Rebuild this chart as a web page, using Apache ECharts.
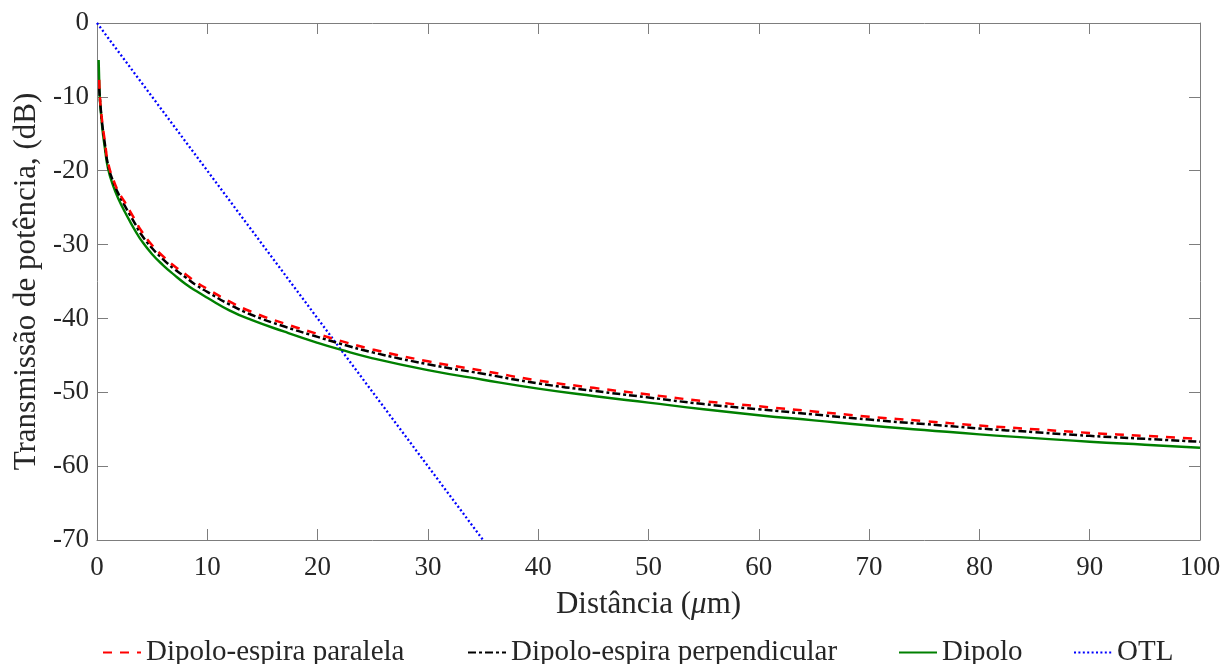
<!DOCTYPE html>
<html>
<head>
<meta charset="utf-8">
<script src="https://cdn.jsdelivr.net/npm/echarts@6/dist/echarts.min.js"></script>
<style>
  html, body { margin: 0; padding: 0; background: #ffffff; }
  #chart { width: 1224px; height: 664px; }
</style>
</head>
<body>
<div id="chart"></div>
<script>
// Distance samples (μm)
const distance = [0.15, 0.2, 0.25, 0.35, 0.5, 0.7, 1, 1.5, 2, 2.5, 3, 3.5, 4, 5, 6, 7, 8, 9, 10, 12, 14, 17, 20, 22, 25, 30, 35, 40, 45, 50, 55, 60, 65, 70, 75, 80, 85, 90, 95, 100];

// Power transmission (dB) for each configuration
const dipoloEspiraParalela = [null, -7.7, -9.6, -11.6, -13.7, -15.9, -18.9, -21.3, -23.0, -24.2, -25.5, -26.8, -28.1, -30.1, -31.6, -32.9, -34.0, -35.1, -36.0, -37.7, -39.1, -40.7, -42.1, -43.0, -44.2, -45.8, -47.1, -48.4, -49.4, -50.3, -51.2, -51.9, -52.6, -53.3, -53.9, -54.5, -55.0, -55.5, -55.9, -56.3];
const dipoloEspiraPerpendicular = [null, -8.8, -10.0, -11.8, -14.0, -16.2, -19.2, -21.6, -23.3, -24.7, -26.0, -27.3, -28.6, -30.5, -32.0, -33.3, -34.4, -35.5, -36.4, -38.1, -39.5, -41.1, -42.5, -43.4, -44.6, -46.2, -47.5, -48.8, -49.8, -50.7, -51.6, -52.3, -53.0, -53.7, -54.3, -54.9, -55.4, -55.9, -56.3, -56.7];
const dipolo = [-5.0, -7.8, -10.0, -12.0, -14.5, -16.8, -19.7, -22.2, -24.0, -25.5, -26.9, -28.2, -29.4, -31.3, -32.8, -34.1, -35.3, -36.3, -37.2, -38.9, -40.2, -41.8, -43.3, -44.2, -45.4, -47.0, -48.3, -49.5, -50.5, -51.4, -52.3, -53.1, -53.8, -54.5, -55.1, -55.7, -56.2, -56.7, -57.1, -57.5];

// Optical transmission line: straight loss line
const otlDistance = [0, 35];
const otl = [0, -70];

const seriesNames = ['Dipolo-espira paralela', 'Dipolo-espira perpendicular', 'Dipolo', 'OTL'];
const legendLeft = [97, 462, 893, 1068];

function pairs(xs, ys) {
  return xs.map((x, i) => [x, ys[i]]);
}

const FONT = 'Liberation Serif';
const AXIS_GREY = '#7d7d7d';
const TEXT = '#262626';

const chart = echarts.init(document.getElementById('chart'), null, { renderer: 'canvas' });

const tickInside = { show: true, inside: true, length: 11, lineStyle: { color: AXIS_GREY, width: 1 } };

chart.setOption({
  animation: false,
  backgroundColor: '#ffffff',
  grid: { left: 97, right: 24, top: 23, bottom: 124, containLabel: false },
  legend: seriesNames.map((name, i) => ({
    left: legendLeft[i],
    top: 633,
    itemWidth: 38,
    itemHeight: 30,
    itemStyle: { opacity: 0 },
    textStyle: { fontFamily: FONT, fontSize: 29, color: TEXT, padding: [0, 0, 0, 0] },
    data: [name]
  })),
  xAxis: [
    {
      type: 'value', position: 'bottom', min: 0, max: 100, interval: 10,
      name: 'Distância ({i|μ}m)', nameLocation: 'middle', nameGap: 49,
      nameTextStyle: { fontFamily: FONT, fontSize: 31, color: TEXT,
        rich: { i: { fontFamily: FONT, fontStyle: 'italic', fontSize: 31, color: TEXT } } },
      axisLine: { show: true, onZero: false, lineStyle: { color: AXIS_GREY, width: 1 } },
      axisTick: tickInside,
      axisLabel: { fontFamily: FONT, fontSize: 27, color: TEXT, margin: 14 },
      splitLine: { show: false }
    },
    {
      type: 'value', position: 'top', min: 0, max: 100, interval: 10,
      axisLine: { show: true, onZero: false, lineStyle: { color: AXIS_GREY, width: 1 } },
      axisTick: tickInside,
      axisLabel: { show: false },
      splitLine: { show: false }
    }
  ],
  yAxis: [
    {
      type: 'value', position: 'left', min: -70, max: 0, interval: 10,
      name: 'Transmissão de potência, (dB)', nameLocation: 'middle', nameGap: 55,
      nameTextStyle: { fontFamily: FONT, fontSize: 31, color: TEXT },
      axisLine: { show: true, onZero: false, lineStyle: { color: AXIS_GREY, width: 1 } },
      axisTick: tickInside,
      axisLabel: { fontFamily: FONT, fontSize: 27, color: TEXT, margin: 8 },
      splitLine: { show: false }
    },
    {
      type: 'value', position: 'right', min: -70, max: 0, interval: 10,
      axisLine: { show: true, onZero: false, lineStyle: { color: AXIS_GREY, width: 1 } },
      axisTick: tickInside,
      axisLabel: { show: false },
      splitLine: { show: false }
    }
  ],
  series: [
    {
      name: seriesNames[0], type: 'line', smooth: true, symbol: 'none', z: 4,
      data: pairs(distance, dipoloEspiraParalela),
      itemStyle: { color: '#ff0000' },
      lineStyle: { color: '#ff0000', width: 2.5, type: [9, 8] }
    },
    {
      name: seriesNames[1], type: 'line', smooth: true, symbol: 'none', z: 3,
      data: pairs(distance, dipoloEspiraPerpendicular),
      itemStyle: { color: '#000000' },
      lineStyle: { color: '#000000', width: 2.5, type: [8, 3, 3, 3] }
    },
    {
      name: seriesNames[2], type: 'line', smooth: true, symbol: 'none', z: 2,
      data: pairs(distance, dipolo),
      itemStyle: { color: '#008000' },
      lineStyle: { color: '#008000', width: 2.4 }
    },
    {
      name: seriesNames[3], type: 'line', symbol: 'none', z: 1,
      data: pairs(otlDistance, otl),
      itemStyle: { color: '#0000ff' },
      lineStyle: { color: '#0000ff', width: 2.3, type: [2, 2.4] }
    }
  ]
});
</script>
</body>
</html>
